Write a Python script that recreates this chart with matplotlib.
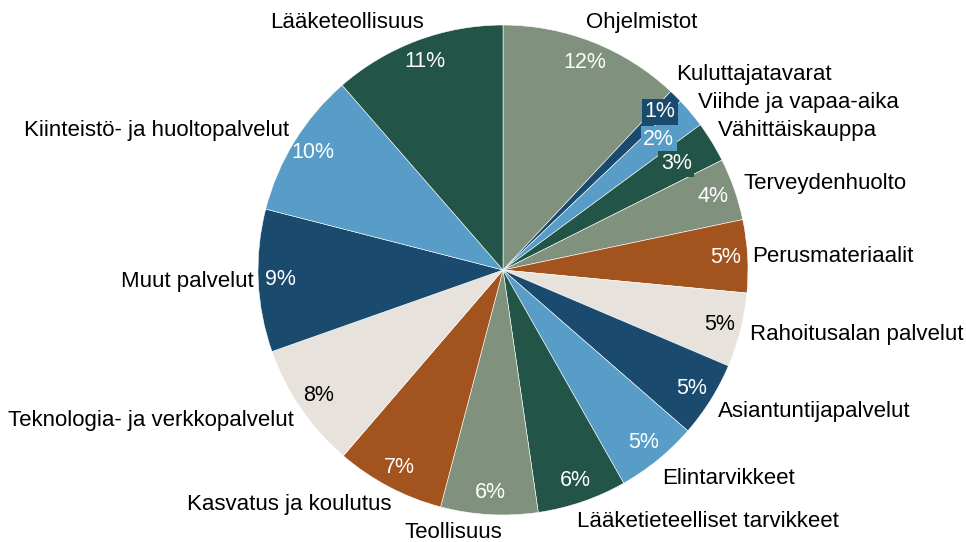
import numpy as np
import matplotlib.pyplot as plt

plt.rcParams["font.family"] = ["Liberation Sans", "DejaVu Sans"]

SECTORS = [
    "Ohjelmistot",
    "Kuluttajatavarat",
    "Viihde ja vapaa-aika",
    "Vähittäiskauppa",
    "Terveydenhuolto",
    "Perusmateriaalit",
    "Rahoitusalan palvelut",
    "Asiantuntijapalvelut",
    "Elintarvikkeet",
    "Lääketieteelliset tarvikkeet",
    "Teollisuus",
    "Kasvatus ja koulutus",
    "Teknologia- ja verkkopalvelut",
    "Muut palvelut",
    "Kiinteistö- ja huoltopalvelut",
    "Lääketeollisuus",
]
SHARES = [12.0, 0.9, 2.0, 2.7, 4.1, 4.8, 4.9, 5.0, 5.4, 5.9, 6.4, 7.2, 8.3, 9.4, 9.6, 11.4]

SAGE = "#80917E"
NAVY = "#1A4B6E"
LIGHT_BLUE = "#589DC7"
DARK_GREEN = "#225448"
ORANGE = "#A3531D"
BEIGE = "#E7E2DC"

COLORS = [
    SAGE, NAVY, LIGHT_BLUE, DARK_GREEN, SAGE, ORANGE, BEIGE, NAVY,
    LIGHT_BLUE, DARK_GREEN, SAGE, ORANGE, BEIGE, NAVY, LIGHT_BLUE, DARK_GREEN,
]

# where the category names sit: distance from centre (in radii) and a
# clockwise nudge in degrees away from the slice middle
LABEL_DIST = [1.065, 1.065, 1.05, 1.045, 1.045, 1.02, 1.04, 1.05,
              1.07, 1.07, 1.07, 1.06, 1.05, 1.02, 1.04, 1.06]
LABEL_NUDGE = [-3.1, -3.2, -0.7, -1.4, -0.6, 0.2, 0.4, 1.3,
               1.8, 2.5, -3.0, -2.4, -1.4, -0.2, 1.4, 2.8]


def main():
    fig = plt.figure(figsize=(9.66, 5.42), dpi=100)
    ax = fig.add_axes([258 / 966, 27 / 542, 490 / 966, 490 / 542])

    wedges, _, pcts = ax.pie(
        SHARES,
        colors=COLORS,
        startangle=90,
        counterclock=False,
        autopct="%.0f%%",
        pctdistance=0.91,
        wedgeprops=dict(edgecolor="white", linewidth=0.4),
        textprops=dict(fontsize=15.5),
    )

    for pct, color in zip(pcts, COLORS):
        pct.set_color("black" if color == BEIGE else "white")

    # the three thin slices: labels pulled in a bit, on a box in slice colour
    for i, r in [(1, 0.91), (2, 0.83), (3, 0.83)]:
        w = wedges[i]
        mid = np.deg2rad((w.theta1 + w.theta2) / 2)
        pcts[i].set_position((r * np.cos(mid), r * np.sin(mid)))
        pcts[i].set_bbox(dict(boxstyle="square,pad=0.12", facecolor=COLORS[i], edgecolor="none"))

    for w, name, dist, nudge in zip(wedges, SECTORS, LABEL_DIST, LABEL_NUDGE):
        mid = np.deg2rad((w.theta1 + w.theta2) / 2 - nudge)
        x, y = dist * np.cos(mid), dist * np.sin(mid)
        ax.text(x, y, name, fontsize=16, color="black",
                ha="left" if x > 0 else "right", va="center")

    ax.set_aspect("equal")
    ax.set_xlim(-1, 1)
    ax.set_ylim(-1, 1)
    ax.axis("off")

    fig.savefig("out.png", dpi=100)
    plt.close(fig)


if __name__ == "__main__":
    main()
